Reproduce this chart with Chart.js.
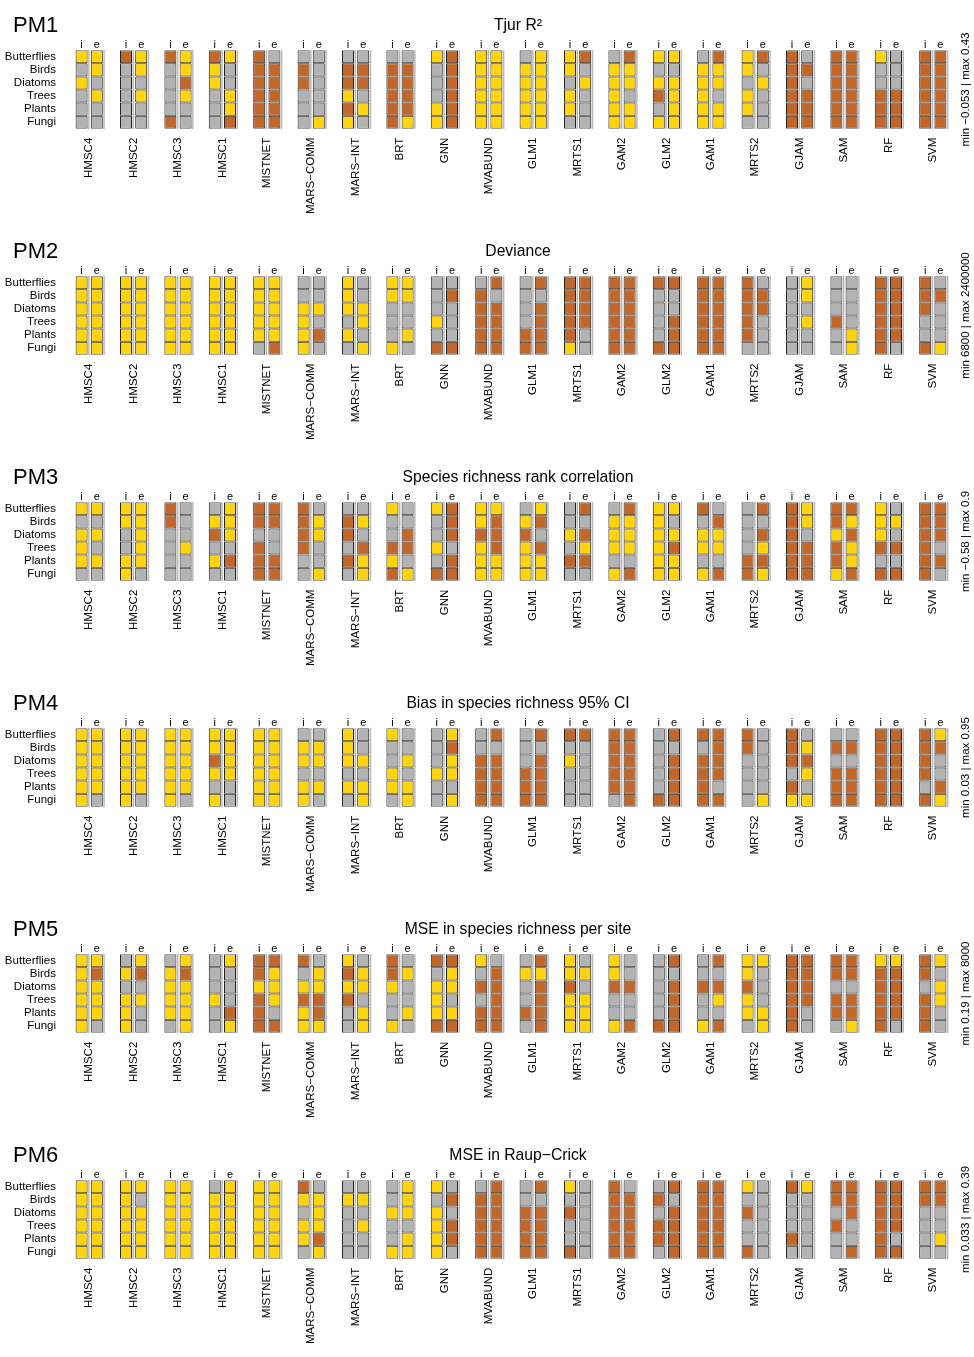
<!DOCTYPE html>
<html><head><meta charset="utf-8">
<script src="https://cdn.jsdelivr.net/npm/chart.js@4.4.1/dist/chart.umd.min.js"></script>
<style>html,body{margin:0;padding:0;background:#fff;}canvas{display:block;}</style>
</head><body>
<div id="wrap"></div>
<script>
// ---- data ----
const models = ["HMSC4","HMSC2","HMSC3","HMSC1","MISTNET","MARS\u2212COMM","MARS\u2212INT","BRT","GNN","MVABUND","GLM1","MRTS1","GAM2","GLM2","GAM1","MRTS2","GJAM","SAM","RF","SVM"];
const taxa = ["Butterflies","Birds","Diatoms","Trees","Plants","Fungi"];
const panelNames = ["PM1","PM2","PM3","PM4","PM5","PM6"];
const titles = ["Tjur R\u00B2","Deviance","Species richness rank correlation","Bias in species richness 95% CI","MSE in species richness per site","MSE in Raup\u2212Crick"];
const ranges = ["min \u22120.053 | max 0.43","min 6800 | max 2400000","min \u22120.58 | max 0.9","min 0.03 | max 0.95","min 0.19 | max 8000","min 0.033 | max 0.39"];
// rank class per taxon (top->bottom): Y = best, G = middle, B = worst
const pm1I = ["YGYGGG","BGGGGG","BGGGGB","BYYGGG","BBBBBB","GBBGGG","GBBYBY","GBBBBB","YGGGYY","YYYYYY","GYYYYY","YYGYYG","GYYYYY","YGYBGY","GYYYYY","YYGYYG","BBBBBB","BBBBBB","YGGBBB","BBBBBB"];
const pm1E = ["YYGYGG","YYGYGG","YYBYGG","YGGYYB","GBBBBB","GGGGGY","GBBGYG","GBBBBY","BBBBBB","YYYYYY","YYYYYY","BGYGGG","BYYGYY","YGYYYY","BYYGYY","BGYGGG","GBGBBB","BBBBBB","GGGBBB","BBBBBB"];
const pm2I = ["YYYYYY","YYYYYY","YYYYYY","YYYYYY","YYYYYG","GGYYYY","YYYGYG","YYGGGY","GGGYGB","GBBBBB","GGGGBB","BBBBBY","BBBBBB","BGGGGB","BBBBBB","BBBBBG","GGGGGG","GGGBGG","BBBBBB","BBBGGB"];
const pm2E = ["YYYYYY","YYYYYY","YYYYYY","YYYYYY","YYYYYB","GGYGBG","GGYYGY","YYGGYG","GBGGGB","BGBBBB","BGBBBB","BBBBGG","BBBBBB","BGGBBB","BBBBBB","GBBGGG","YYGYGG","GGGGYY","BBBBBG","GBGGGY"];
const pm3I = ["YGYYYG","YYGGYY","BBGGGG","GYBGYG","BBGBBB","BBBBGG","GBBGBG","YGGBYB","YGGYGB","YYBYYY","GYBYYY","GGYGBG","GYYYGY","YYYYYY","BGYYGY","GGGGBB","BBBBBB","BBYBBY","YYYBGB","BBBBBB"];
const pm3E = ["YGYGYG","YYYYYG","GGGYGG","YYYGBG","BBGGBB","GYYGGY","GYGBYY","GGBBGY","BBBGBB","YBBBYY","YBGBYY","BGBYBG","BYYYGB","YGYBYY","GBYYGB","BGBYBY","YYGBBB","BYBYYB","GYGBGB","BBBGBG"];
const pm4I = ["YYYYYY","YYYYYY","YYYYYY","YYBYGY","YYYYYY","GYYGYY","YYYGYG","YGGYYG","GGGYGG","GGBBBB","GGGBBB","BGYGGG","BBBBBG","GGGGGB","BGBBBB","BBGGGG","BBBGBY","GBGBBB","BBBBBB","BBBBGB"];
const pm4E = ["YYYYYG","YYYYYG","YYYYYG","YYYYGG","YYYYYY","GYYGYG","GGYGYY","GGYGYY","YBYYGY","BGBBBB","BGBBBB","BGGGGG","BBBBBB","BGBBBB","BBBBGB","GGGGGY","GYBYGY","GBGBBB","BBBBBB","YBGGBY"];
const pm5I = ["YYYYYY","GYGYYY","GYYYYG","GGGYGG","BBYBBB","BGYBYY","YBYBGG","BBYGGY","BGYYYB","YGBGBB","GYGGBG","YYBYYY","YYBGGY","GGGGGB","GGBGGY","YYBYYG","BBBBBB","BBGBBG","YBBBBB","BBGBBB"];
const pm5E = ["YBYYYG","YBGYGG","YBYYYY","YGGGBY","BYYYGB","GYYBBY","GYYGYY","GYGGYG","BYYGYB","GBBBBB","BYBBBB","GYGYYY","GGBGGB","BGBBBB","BGBYGB","YGGGYY","BBBBGG","BBGBBY","YBBBBG","YGYYGG"];
const pm6I = ["YYYYYY","YYYYYY","YYYYYY","GYYYYY","YYYYYY","BYGYYG","GYGGGG","GGYGGY","YGYYYY","GBBBBB","GGBBBB","YGBGGB","BBBBBB","GBGBBG","BBBBBB","YGBGGB","BGGGBG","BBGBGG","BBBBBB","BBGGGG"];
const pm6E = ["YYYYYY","YGYYYY","YYYYYY","YYYYYY","YYYYYY","GYYYBY","GYGYGG","YYYGYY","GBGBBG","BBBBBB","BGBBBB","GGGGGG","GBBBBB","BGBBBB","BBBBBB","GGGGGG","YGGGGG","BBBGGB","BBBBGB","BBGGYG"];
const panelI = [pm1I,pm2I,pm3I,pm4I,pm5I,pm6I];
const panelE = [pm1E,pm2E,pm3E,pm4E,pm5E,pm6E];

// ---- style ----
const colourOf = {Y:'#FFD40A', G:'#B3B3B3', B:'#C1672A'};
const FONT = '"Liberation Sans", Arial, Helvetica, sans-serif';
Chart.defaults.font.family = FONT;
Chart.defaults.color = '#000';

function buildDatasets(iArr, eArr){
  const ds = [];
  [['i', iArr], ['e', eArr]].forEach(([stack, arr]) => {
    for (let r = taxa.length - 1; r >= 0; r--) {
      ds.push({
        label: stack + ' ' + taxa[r],
        stack: stack,
        data: models.map(() => 1),
        backgroundColor: arr.map(s => colourOf[s[r]]),
        borderColor: '#252525',
        borderWidth: 1,
        borderSkipped: false,
        categoryPercentage: 0.685,
        barPercentage: 0.79
      });
    }
  });
  return ds;
}

const decor = {
  id: 'decor',
  afterDatasetsDraw(chart){
    const ctx = chart.ctx;
    ctx.save();
    ctx.fillStyle = 'rgba(0,0,0,0.28)';
    [[0,5],[6,11]].forEach(([b,t]) => {
      const mb = chart.getDatasetMeta(b), mt = chart.getDatasetMeta(t);
      mb.data.forEach((el, j) => {
        const top = mt.data[j];
        ctx.fillRect(el.x + el.width/2 + 0.5, top.y - 0.5, 1.5, el.base - top.y + 1);
      });
    });
    ctx.restore();
  },
  afterDraw(chart){
    const p = chart.options.plugins.decor;
    const ctx = chart.ctx, a = chart.chartArea;
    ctx.save();
    ctx.fillStyle = '#000';
    ctx.textBaseline = 'alphabetic';
    ctx.font = '22px ' + FONT; ctx.textAlign = 'left';
    ctx.fillText(p.panel, 13, 32);
    ctx.font = '15.7px ' + FONT; ctx.textAlign = 'center';
    ctx.fillText(p.title, 518, 30);
    ctx.font = '11px ' + FONT;
    chart.getDatasetMeta(5).data.forEach(el => ctx.fillText('i', el.x, a.top - 2.5));
    chart.getDatasetMeta(11).data.forEach(el => ctx.fillText('e', el.x, a.top - 2.5));
    ctx.font = '11.5px ' + FONT; ctx.textBaseline = 'middle';
    ctx.translate(966, (a.top + a.bottom)/2);
    ctx.rotate(-Math.PI/2);
    ctx.fillText(p.range, 0, 0);
    ctx.restore();
  }
};

const wrap = document.getElementById('wrap');
for (let k = 0; k < 6; k++) {
  const cv = document.createElement('canvas');
  cv.width = 974; cv.height = 226;
  cv.style.width = '974px'; cv.style.height = '226px';
  wrap.appendChild(cv);
  new Chart(cv, {
    type: 'bar',
    data: { labels: models, datasets: buildDatasets(panelI[k], panelE[k]) },
    plugins: [decor],
    options: {
      responsive: false, animation: false, devicePixelRatio: 1,
      layout: { padding: { top: 50.3, left: 0, right: 19, bottom: 0 } },
      plugins: {
        legend: { display: false }, title: { display: false }, tooltip: { enabled: false },
        decor: { panel: panelNames[k], title: titles[k], range: ranges[k] }
      },
      scales: {
        x: {
          stacked: true,
          grid: { display: false, drawTicks: false }, border: { display: false },
          ticks: { minRotation: 90, maxRotation: 90, autoSkip: false, padding: 9, font: { size: 11.5 }, color: '#000' },
          afterFit(s){ s.height = 97.3; }
        },
        y: {
          stacked: true, min: 0, max: 6,
          grid: { display: false, drawTicks: false }, border: { display: false },
          afterBuildTicks(s){ s.ticks = [0.5,1.5,2.5,3.5,4.5,5.5].map(v => ({ value: v })); },
          ticks: { autoSkip: false, padding: 11, font: { size: 11.5 }, color: '#000',
                   callback: (v) => taxa[Math.round(5.5 - v)] },
          afterFit(s){ s.width = 67; }
        }
      }
    }
  });
}
</script>
</body></html>
